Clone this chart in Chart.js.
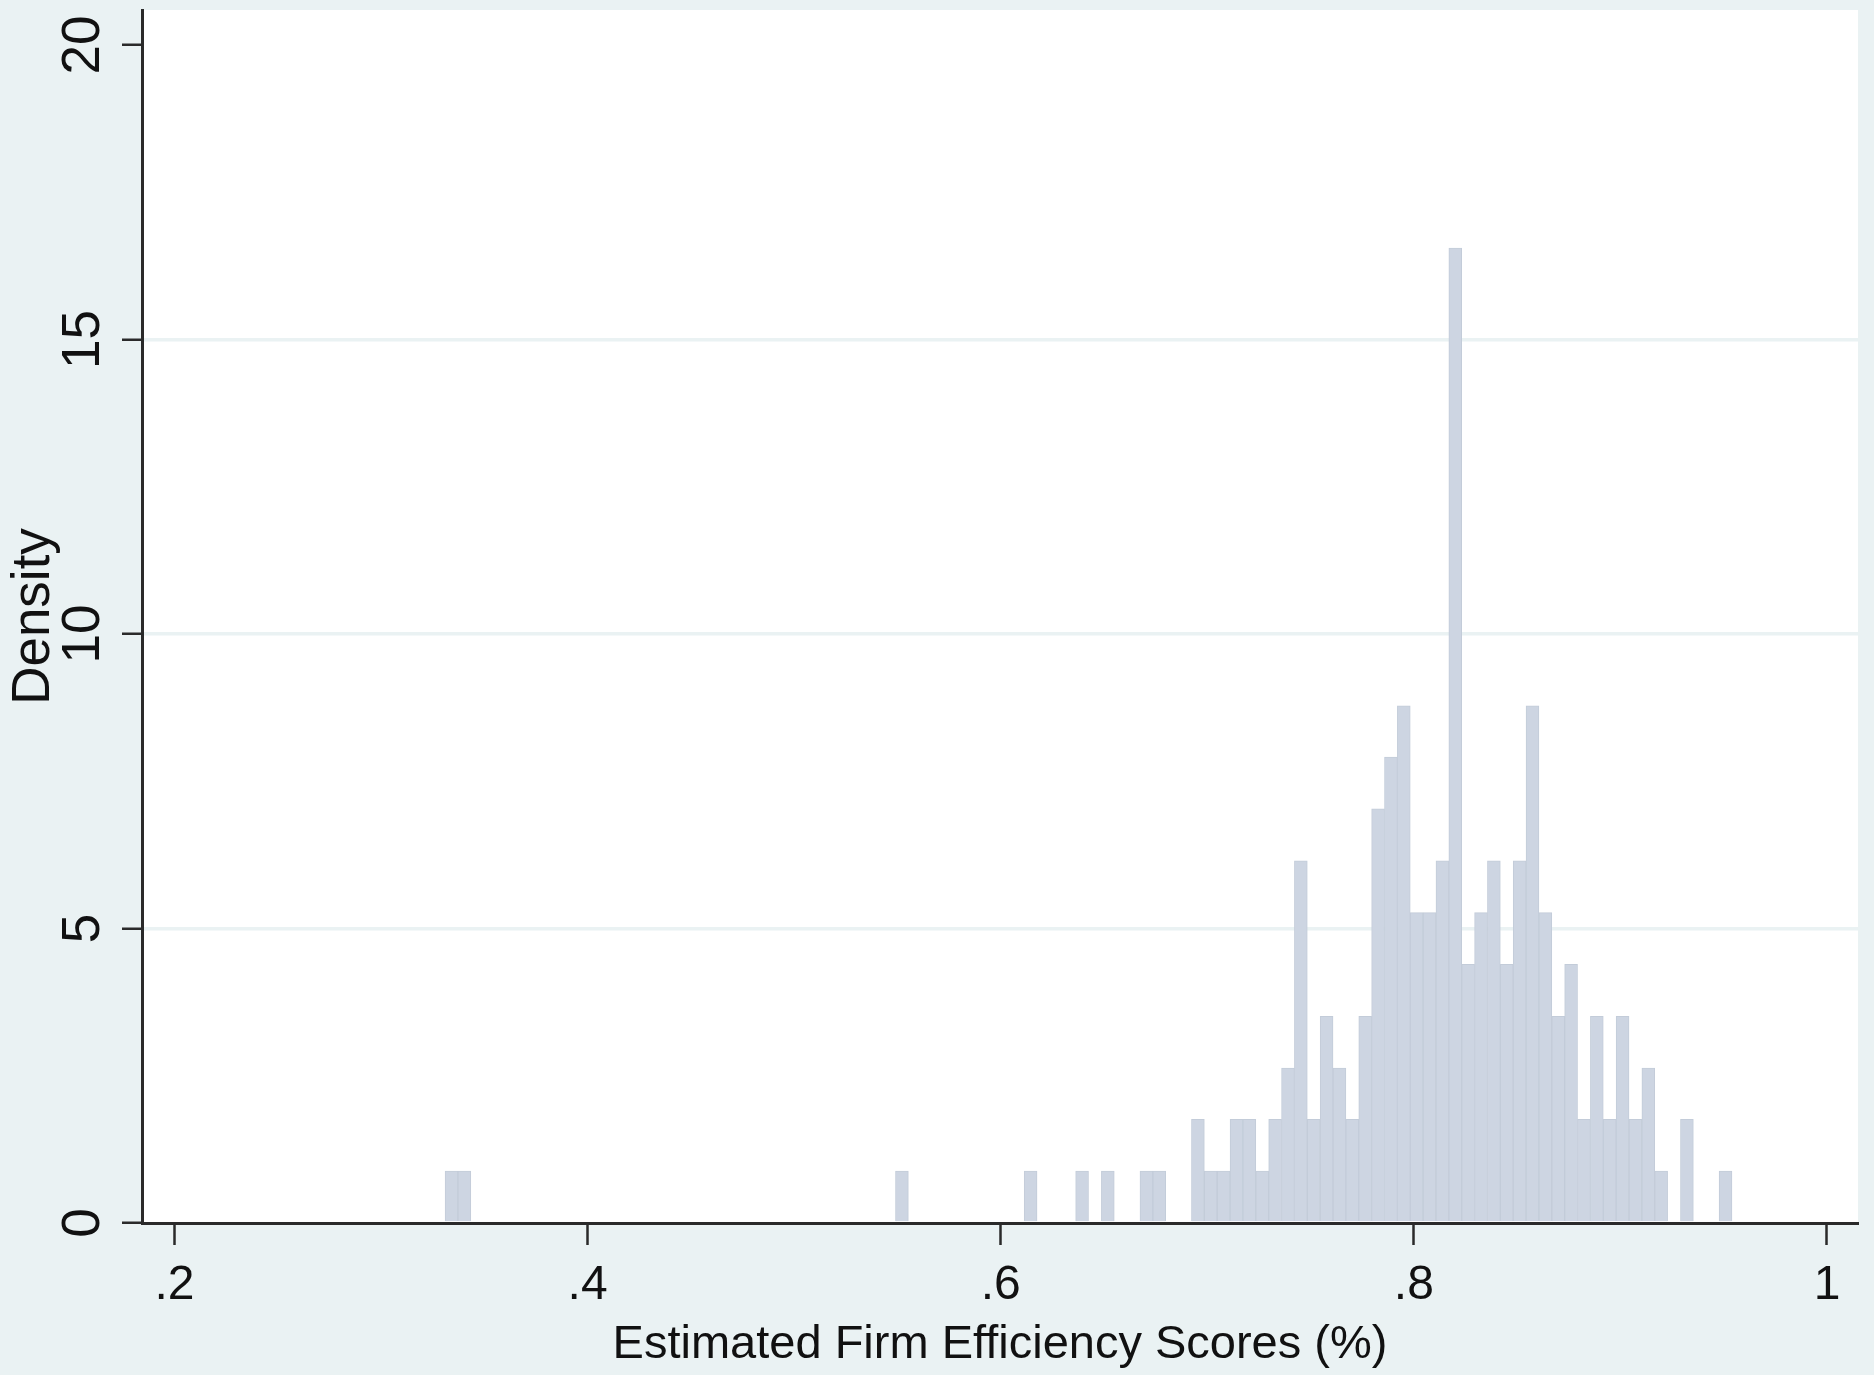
<!DOCTYPE html>
<html>
<head>
<meta charset="utf-8">
<script src="https://cdn.jsdelivr.net/npm/chart.js@4.4.1/dist/chart.umd.min.js"></script>
<style>
  html, body { margin: 0; padding: 0; background: #EAF2F3; }
  canvas { display: block; }
</style>
</head>
<body>
<canvas id="hist" width="1874" height="1375" style="width:1874px;height:1375px"></canvas>
<script>
// Histogram of estimated firm efficiency scores: 100 equal-width bins
const binStart = 0.331;      // lower edge of the first bin
const binWidth = 0.00623;    // width of every bin

// Density of each bin, left to right
const density = [
  0.88, 0.88, 0, 0, 0, 0, 0, 0, 0, 0,
  0, 0, 0, 0, 0, 0, 0, 0, 0, 0,
  0, 0, 0, 0, 0, 0, 0, 0, 0, 0,
  0, 0, 0, 0, 0, 0.88, 0, 0, 0, 0,
  0, 0, 0, 0, 0, 0.88, 0, 0, 0, 0.88,
  0, 0.88, 0, 0, 0.88, 0.88, 0, 0, 1.76, 0.88,
  0.88, 1.76, 1.76, 0.88, 1.76, 2.63, 6.15, 1.76, 3.51, 2.63,
  1.76, 3.51, 7.03, 7.91, 8.78, 5.27, 5.27, 6.15, 16.55, 4.39,
  5.27, 6.15, 4.39, 6.15, 8.78, 5.27, 3.51, 4.39, 1.76, 3.51,
  1.76, 3.51, 1.76, 2.63, 0.88, 0, 1.76, 0, 0, 0.88
];

const xTickValues = [0.2, 0.4, 0.6, 0.8, 1];
const xTickLabels = ['.2', '.4', '.6', '.8', '1'];
const yTickValues = [0, 5, 10, 15, 20];
const yTickLabels = ['0', '5', '10', '15', '20'];
const xTitle = 'Estimated Firm Efficiency Scores (%)';
const yTitle = 'Density';

const FONT = '"Liberation Sans", Arial, Helvetica, sans-serif';
const INK = '#111111';
const AXIS = '#2a2a2a';
const OUTER_BG = '#EAF2F3';
const GRID = '#EAF2F3';
const BAR_FILL = '#CDD5E2';
const BAR_EDGE = '#C3CCD9';

const points = density.map((d, i) => ({ x: binStart + (i + 0.5) * binWidth, y: d }));

// Light outer region with a white plot region
const regionBackground = {
  id: 'regionBackground',
  beforeDraw(chart) {
    const { ctx, chartArea: a, width, height } = chart;
    ctx.save();
    ctx.fillStyle = OUTER_BG;
    ctx.fillRect(0, 0, width, height);
    ctx.fillStyle = '#FFFFFF';
    ctx.fillRect(a.left, a.top, a.right - a.left, a.bottom - a.top);
    ctx.restore();
  }
};

// Fixed axis sizes so the plot region sits where it should
function fitX(s) {
  s.height = 152;
  s.paddingLeft = 0; s.paddingRight = 0; s.paddingTop = 0; s.paddingBottom = 0;
}
function fitY(s) {
  s.width = 142;
  s.paddingLeft = 0; s.paddingRight = 0; s.paddingTop = 0; s.paddingBottom = 0;
}

new Chart(document.getElementById('hist').getContext('2d'), {
  type: 'bar',
  data: {
    datasets: [{
      data: points,
      backgroundColor: BAR_FILL,
      borderColor: BAR_EDGE,
      borderWidth: 1,
      barPercentage: 1,
      categoryPercentage: 1
    }]
  },
  options: {
    responsive: false,
    animation: false,
    devicePixelRatio: 1,
    layout: { padding: { left: 0, top: 10, right: 16, bottom: 0 } },
    plugins: {
      legend: { display: false },
      tooltip: { enabled: false }
    },
    scales: {
      x: {
        type: 'linear',
        min: 0.18427,
        max: 1.01502,
        offset: false,
        afterBuildTicks: (s) => { s.ticks = xTickValues.map(v => ({ value: v })); },
        afterFit: fitX,
        ticks: {
          autoSkip: false,
          maxRotation: 0,
          minRotation: 0,
          padding: 12,
          color: INK,
          font: { family: FONT, size: 48, lineHeight: 1.2 },
          callback: (v, i) => xTickLabels[i]
        },
        grid: {
          offset: false,
          drawOnChartArea: false,
          drawTicks: true,
          tickLength: 22,
          tickColor: AXIS,
          tickWidth: 2.5
        },
        border: { display: true, color: AXIS, width: 3 },
        title: {
          display: true,
          text: xTitle,
          color: INK,
          font: { family: FONT, size: 47, lineHeight: 1.2 },
          padding: { top: 0, bottom: 2 }
        }
      },
      y: {
        type: 'linear',
        min: 0,
        max: 20.594,
        afterBuildTicks: (s) => { s.ticks = yTickValues.map(v => ({ value: v })); },
        afterFit: fitY,
        ticks: {
          autoSkip: false,
          minRotation: 90,
          maxRotation: 90,
          crossAlign: 'center',
          padding: 8,
          color: INK,
          font: { family: FONT, size: 53, lineHeight: 1.2 },
          callback: (v, i) => yTickLabels[i]
        },
        grid: {
          offset: false,
          color: (c) => (c.tick && (c.tick.value === 0 || c.tick.value === 20)) ? 'rgba(0,0,0,0)' : GRID,
          lineWidth: 3.5,
          drawTicks: true,
          tickLength: 20,
          tickColor: AXIS,
          tickWidth: 2.5
        },
        border: { display: true, color: AXIS, width: 3 },
        title: {
          display: true,
          text: yTitle,
          color: INK,
          font: { family: FONT, size: 53, lineHeight: 1.2 },
          padding: { top: 3, bottom: 0 }
        }
      }
    }
  },
  plugins: [regionBackground]
});
</script>
</body>
</html>
